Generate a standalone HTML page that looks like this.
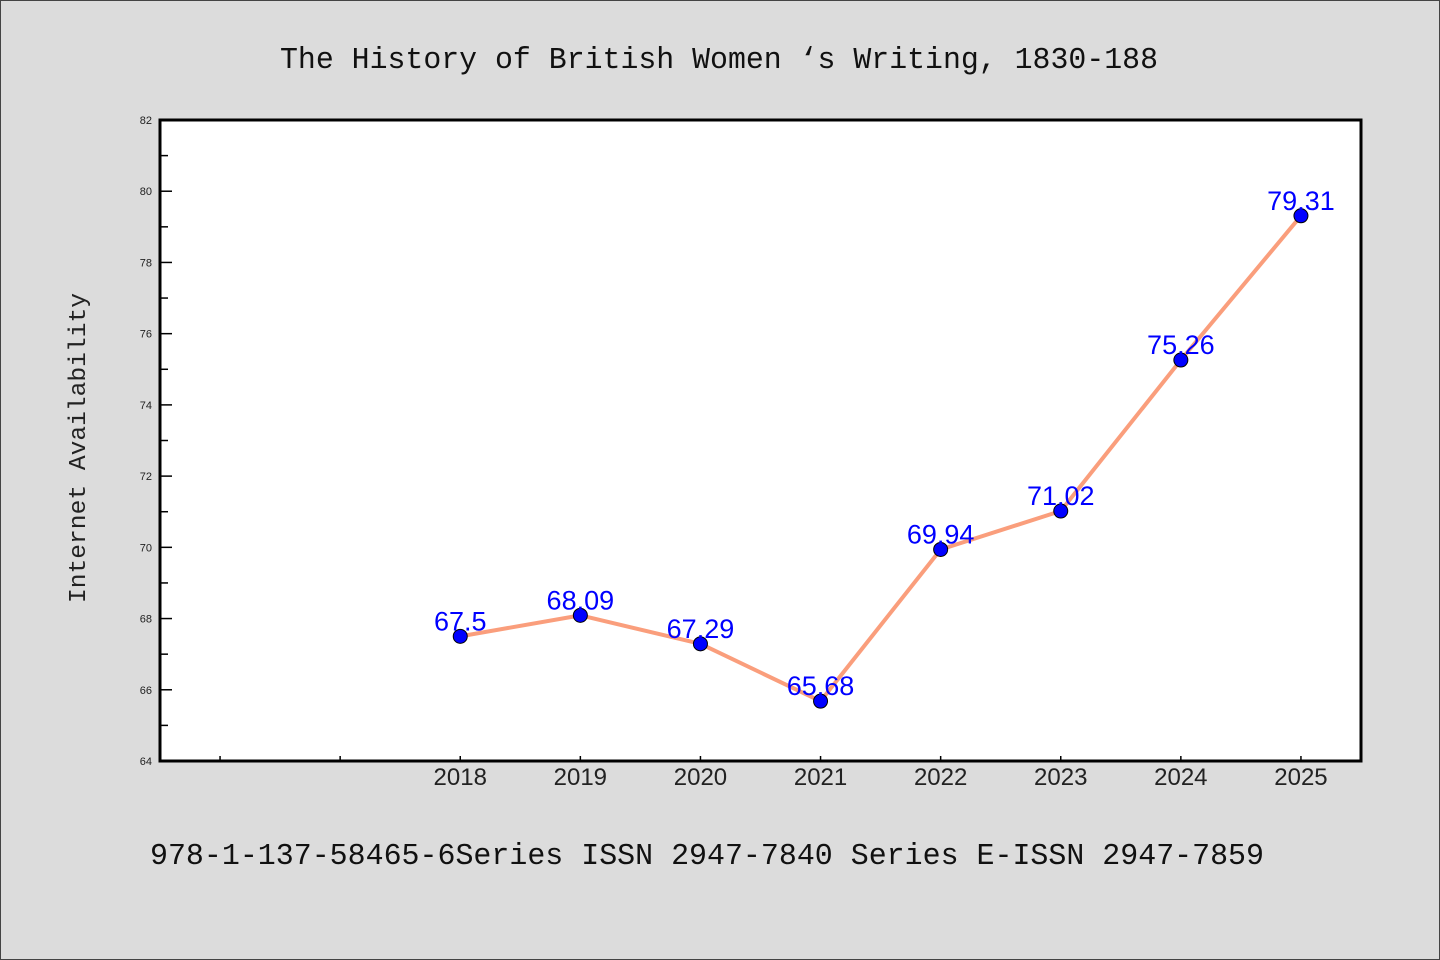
<!DOCTYPE html>
<html><head><meta charset="utf-8"><style>
body{margin:0;background:#dcdcdc;}
svg{display:block;}
</style></head><body>
<svg id="chart" width="1440" height="960" xmlns="http://www.w3.org/2000/svg">
<rect x="0.5" y="0.5" width="1439" height="959" fill="#dcdcdc" stroke="#444" stroke-width="1"/>
<text x="719" y="68" font-family="Liberation Mono, monospace" font-size="31" fill="#111" text-anchor="middle" textLength="878" lengthAdjust="spacingAndGlyphs">The History of British Women ‘s Writing, 1830-188</text>
<rect x="160" y="120" width="1201" height="641" fill="#fff"/>
<g id="axes"></g>
<g id="series"></g>
<rect x="160" y="120" width="1201" height="641" fill="none" stroke="#000" stroke-width="3"/>
<text transform="translate(85,448) rotate(-90)" font-family="Liberation Mono, monospace" font-size="24" fill="#222" text-anchor="middle" textLength="310" lengthAdjust="spacingAndGlyphs">Internet Availability</text>
<text x="707" y="864" font-family="Liberation Mono, monospace" font-size="31" fill="#111" text-anchor="middle" textLength="1114" lengthAdjust="spacingAndGlyphs">978-1-137-58465-6Series ISSN 2947-7840 Series E-ISSN 2947-7859</text>
</svg>
<script>
const categories = ["", "", "2018", "2019", "2020", "2021", "2022", "2023", "2024", "2025"];
const values = [null, null, 67.5, 68.09, 67.29, 65.68, 69.94, 71.02, 75.26, 79.31];
const valueLabels = ["", "", "67.5", "68.09", "67.29", "65.68", "69.94", "71.02", "75.26", "79.31"];
const yTicks = [64, 66, 68, 70, 72, 74, 76, 78, 80, 82];

const NS = "http://www.w3.org/2000/svg";
const L = 160, R = 1361, T = 120, B = 761, yMin = 64, yMax = 82;
const x = i => L + (R - L) / categories.length * (i + 0.5);
const y = v => B - (v - yMin) / (yMax - yMin) * (B - T);
function mk(tag, attrs, parent) {
  const e = document.createElementNS(NS, tag);
  for (const k in attrs) e.setAttribute(k, attrs[k]);
  parent.appendChild(e);
  return e;
}
const axes = document.getElementById("axes");
const series = document.getElementById("series");
yTicks.forEach(v => {
  const ln = mk("line", {x1: L, x2: L + 12, y1: y(v), y2: y(v), stroke: "#000", "stroke-width": 1.5}, axes);
  
  
  const t = mk("text", {x: L - 8, y: y(v) + 4, "text-anchor": "end", "font-family": "Liberation Sans, sans-serif", "font-size": 11, fill: "#222"}, axes);
  t.textContent = v;
  
  
  if (v < yMax) {
    const m = mk("line", {x1: L, x2: L + 8, y1: y(v + 1), y2: y(v + 1), stroke: "#000", "stroke-width": 1.5}, axes);
    
    
  }
});
categories.forEach((c, i) => {
  const tk = mk("line", {x1: x(i), x2: x(i), y1: B, y2: B - 5, stroke: "#000", "stroke-width": 1.5}, axes);
  
  
  const t = mk("text", {x: x(i), y: B + 24, "text-anchor": "middle", "font-family": "Liberation Sans, sans-serif", "font-size": 24, fill: "#222"}, axes);
  t.textContent = c;
  
  
});
const pts = [];
values.forEach((v, i) => { if (v !== null) pts.push([x(i), y(v), i]); });
const line = mk("polyline", {points: pts.map(p => p[0] + "," + p[1]).join(" "), fill: "none", stroke: "#fa9e7c", "stroke-width": 4, "stroke-linejoin": "round"}, series);


pts.forEach(p => {
  const c = mk("circle", {cx: p[0], cy: p[1], r: 7, fill: "#0000ff", stroke: "#000", "stroke-width": 1}, series);
  
  
  const t = mk("text", {x: p[0], y: p[1] - 6, "text-anchor": "middle", "font-family": "Liberation Sans, sans-serif", "font-size": 27, fill: "#0000ff"}, series);
  t.textContent = valueLabels[p[2]];
  
  
});
</script>
</body></html>
